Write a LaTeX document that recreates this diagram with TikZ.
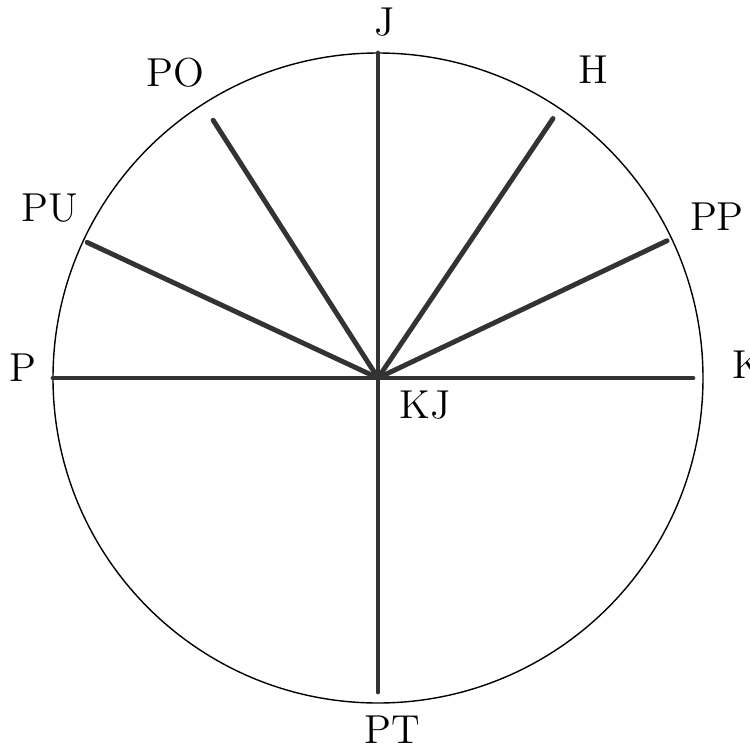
\documentclass[tikz,border=0pt]{standalone}
\begin{document}
\begin{tikzpicture}[font=\fontsize{11.5}{14}\selectfont, line join=round, line cap=round,
	ray/.style={line width=1.4pt, black!80}]
	\useasboundingbox (-3.78,-3.69) rectangle (3.72,3.78);
	\draw[line width=0.4pt] (0,0) circle (3.25);
	\coordinate (KJ) at (0,0);
	\coordinate (P) at (180:3.25);
	\coordinate (K) at (0:3.15);
	\coordinate (J) at (90:3.25);
	\coordinate (PT) at (270:3.14);
	\coordinate (PO) at (122.6:3.06);
	\coordinate (H) at (56:3.13);
	\coordinate (PU) at (155:3.21);
	\coordinate (PP) at (25.4:3.20);
	\draw[ray] (P)--(K);
	\draw[ray] (J)--(PT);
	\foreach \e in {PO,H,PU,PP} \draw[ray] (KJ)--(\e);
	\path (0.07,3.56) node (lJ) {J};
	\path (-2.03,3.05) node (lPO) {PO};
	\path (2.15,3.08) node (lH) {H};
	\path (-3.28,1.70) node (lPU) {PU};
	\path (3.39,1.61) node (lPP) {PP};
	\path (-3.55,0.10) node (lP) {P};
	\path (3.70,0.13) node (lK) {K};
	\path (0.47,-0.27) node (lKJ) {KJ};
	\path (0.14,-3.52) node (lPT) {PT};
\end{tikzpicture}
\end{document}
